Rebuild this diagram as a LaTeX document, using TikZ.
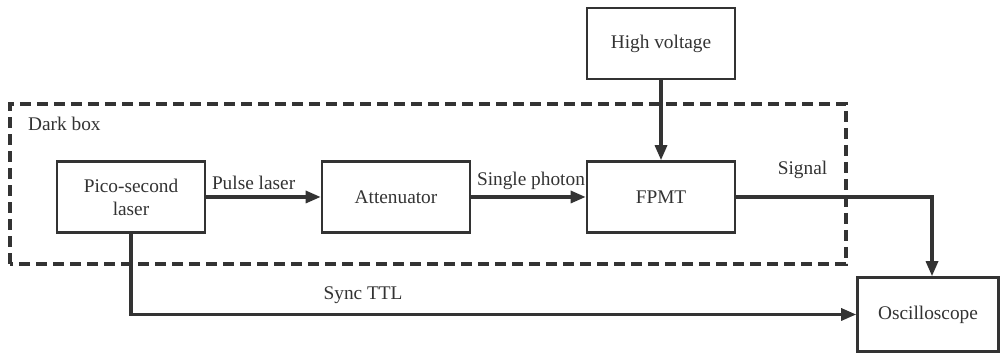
\documentclass[tikz,border=0pt]{standalone}
\usepackage{fontspec}
\setmainfont{Liberation Serif}
\usepackage{tikz}
\usetikzlibrary{arrows.meta}

\begin{document}
\begin{tikzpicture}[line width=1.5pt, draw=black!80, font=\fontsize{11}{13}\selectfont,
  blk/.style={draw=black!80, minimum width=2.96cm, minimum height=1.42cm, align=center, text=black!80},
  arr/.style={-{Triangle[length=3mm, width=2.4mm]}, black!80, line width=1.8pt},
  lbl/.style={text=black!80}]
  \useasboundingbox (0,0) rectangle (20,7.08); % 図の範囲
  \draw[dashed, dash pattern=on 2.2mm off 1.2mm, black!80, line width=1.8pt] (0.2,1.8) rectangle (16.92,5.0); % 暗箱
  \node[lbl, anchor=west] (dark) at (0.42,4.6) {Dark box};

  \node[blk] (laser) at (2.62,3.14) {Pico-second\\laser}; % 光源
  \node[blk] (atten) at (7.92,3.14) {Attenuator};
  \node[blk] (fpmt) at (13.22,3.14) {FPMT};
  \node[blk] (hv) at (13.22,6.21) {High voltage}; % 高電圧
  \node[blk, minimum width=2.82cm, minimum height=1.48cm] (osc) at (18.56,0.79) {Oscilloscope};
  \coordinate (sig) at (18.64,3.14); % 折れ点

  \draw[arr] (laser) -- (atten) node[lbl, pos=0.0, above right, xshift=-1pt] {Pulse laser};
  \draw[arr] (atten) -- (fpmt) node[lbl, pos=0.0, above right, xshift=-1pt] {Single photon};
  \draw[arr] (hv) -- (fpmt);
  \draw[arr] (fpmt) -- (sig) node[lbl, midway, above, yshift=6pt, xshift=-18pt] {Signal} -- (sig |- osc.north);
  \draw[arr] (laser) |- (osc.west) node[lbl, pos=0.66, above, yshift=2pt] {Sync TTL}; % 同期信号
\end{tikzpicture}
\end{document}
